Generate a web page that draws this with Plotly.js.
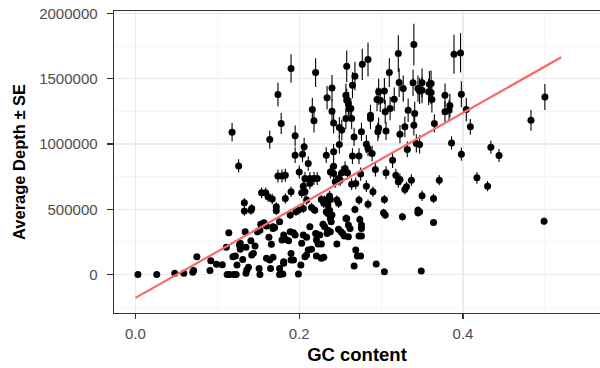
<!DOCTYPE html>
<html>
<head>
<meta charset="utf-8">
<script src="https://cdn.plot.ly/plotly-3.0.1.min.js"></script>
<style>html,body{margin:0;padding:0;background:#fff;}#chart{width:600px;height:368px;}</style>
</head>
<body>
<div id="chart"></div>
<script>
// GC content per contig
const gc = [
0.003,0.026,0.048,0.059,0.070,0.071,0.075,0.091,0.092,0.099,0.106,0.111,0.114,0.126,0.112,0.115,0.120,0.123,0.119,0.122,
0.124,0.127,0.128,0.131,0.133,0.133,0.134,0.135,0.136,0.138,0.135,0.141,0.142,0.141,0.142,0.151,0.152,0.149,0.152,0.154,
0.157,0.159,0.162,0.163,0.160,0.164,0.166,0.165,0.167,0.168,0.172,0.172,0.174,0.176,0.118,0.164,0.174,0.178,0.190,0.195,
0.195,0.204,0.206,0.216,0.218,0.220,0.233,0.234,0.240,0.240,0.242,0.242,0.249,0.249,0.252,0.257,0.258,0.258,0.260,0.261,
0.263,0.264,0.257,0.265,0.268,0.267,0.265,0.273,0.276,0.277,0.284,0.282,0.284,0.287,0.287,0.289,0.297,0.295,0.299,0.304,
0.297,0.296,0.305,0.306,0.311,0.310,0.316,0.321,0.322,0.323,0.327,0.329,0.332,0.333,0.339,0.340,0.340,0.341,0.343,0.345,
0.347,0.350,0.347,0.359,0.358,0.350,0.361,0.361,0.362,0.365,0.378,0.378,0.383,0.384,0.389,0.397,0.398,0.404,0.409,0.386,
0.398,0.434,0.444,0.483,0.500,0.371,0.350,0.364,0.347,0.364,0.417,0.430,0.499,0.349,0.211,0.200,0.179,0.183,0.205,0.207,
0.213,0.218,0.222,0.238,0.242,0.242,0.248,0.252,0.256,0.259,0.244,0.250,0.264,0.269,0.275,0.282,0.293,0.290,0.306,0.314,
0.318,0.323,0.321,0.337,0.329,0.331,0.304,0.303,0.305,0.273,0.284,0.268,0.274,0.276,0.276,0.273,0.276,0.269,0.271,0.275,
0.267,0.294,0.304,0.326,0.345,0.345,0.260,0.258,0.246,0.248,0.237,0.238,0.227,0.231,0.230,0.235,0.233,0.237,0.240,0.229,
0.231,0.235,0.238,0.234,0.248,0.251,0.253,0.246,0.260,0.221,0.225,0.223,0.227,0.215,0.207,0.209,0.221,0.227,0.230,0.203,
0.205,0.209,0.189,0.193,0.195,0.179,0.184,0.187,0.170,0.181,0.190,0.193,0.190,0.180,0.199,0.202,0.183,0.190,0.196,0.203,
0.207,0.213,0.209,0.189,0.199,0.205,0.215,0.219,0.176,0.168,0.153,0.160,0.181,0.213,0.220,0.221,0.144,0.146,0.128,0.168,
0.176,0.181,0.211,0.235,0.238,0.239,0.257,0.262,0.255
];
// Average depth per contig
const depth = [
0,0,10000,10000,17000,30000,136000,30000,106000,78000,75000,208000,320000,832000,0,0,0,0,136000,142000,
73000,226000,193000,116000,486000,549000,327000,208000,34000,55000,9000,493000,506000,259000,149000,47000,0,327000,340000,626000,
396000,626000,595000,285000,124000,111000,231000,47000,578000,366000,519000,488000,754000,0,1090000,1034000,1379000,1157000,1578000,1062000,
914000,922000,978000,1264000,1177000,1547000,914000,1353000,1429000,1251000,1161000,940000,996000,1126000,1106000,1373000,1595000,1335000,1310000,1272000,
1272000,1195000,1195000,1450000,1519000,1054000,907000,907000,1093000,1610000,1647000,998000,966000,1220000,1195000,927000,1399000,1340000,1335000,1406000,
1123000,1093000,1246000,1100000,1272000,1547000,1343000,1692000,1470000,1075000,1424000,1131000,958000,1259000,1468000,1761000,1144000,1233000,1004000,1424000,
1406000,1468000,996000,1458000,1399000,1412000,1463000,1394000,1340000,1157000,1373000,1246000,1259000,1294000,1687000,1697000,1381000,1264000,1131000,1008000,
922000,975000,912000,1182000,1360000,723000,603000,583000,480000,399000,741000,677000,409000,27000,850000,786000,754000,761000,677000,736000,
736000,736000,736000,786000,830000,774000,736000,779000,812000,779000,710000,723000,692000,698000,769000,677000,805000,634000,779000,876000,
761000,728000,710000,723000,652000,672000,575000,473000,455000,570000,539000,499000,422000,379000,353000,295000,295000,187000,142000,142000,
65000,80000,21000,442000,493000,473000,379000,430000,570000,545000,601000,575000,575000,570000,545000,532000,480000,493000,455000,386000,
366000,340000,327000,315000,346000,327000,315000,233000,289000,310000,302000,233000,233000,193000,136000,149000,142000,124000,132000,239000,
302000,285000,327000,320000,302000,264000,269000,259000,361000,98000,111000,111000,162000,4000,4000,73000,583000,634000,480000,626000,
634000,698000,570000,455000,493000,506000,514000,493000,404000,353000,386000,371000,302000,366000,315000,264000,162000,218000,239000,132000,
47000,86000,187000,468000,430000,404000,430000,353000,295000
];
// Standard error of depth per contig
const se = [
3000,3000,4000,4000,5000,5000,12000,5000,10000,8000,8000,15000,20000,50000,4000,4000,4000,4000,10000,10000,
8000,15000,15000,10000,35000,35000,20000,15000,5000,6000,4000,35000,35000,18000,12000,6000,4000,20000,22000,40000,
25000,40000,40000,20000,10000,10000,15000,6000,40000,25000,35000,30000,50000,4000,70000,70000,90000,80000,110000,80000,
60000,60000,70000,90000,90000,110000,60000,90000,100000,90000,80000,60000,70000,80000,80000,90000,120000,90000,90000,90000,
80000,80000,80000,100000,110000,70000,60000,60000,70000,120000,130000,70000,60000,80000,80000,60000,100000,90000,90000,100000,
80000,70000,90000,70000,90000,110000,90000,140000,110000,70000,100000,80000,60000,90000,100000,160000,80000,90000,70000,100000,
100000,110000,70000,100000,100000,100000,100000,90000,100000,70000,90000,80000,80000,90000,150000,150000,100000,90000,60000,50000,
50000,50000,50000,80000,100000,40000,40000,35000,30000,25000,45000,40000,25000,5000,55000,50000,50000,50000,45000,50000,
50000,50000,50000,50000,55000,50000,50000,50000,55000,50000,45000,45000,45000,45000,50000,45000,55000,40000,50000,60000,
50000,45000,45000,45000,40000,40000,35000,30000,30000,35000,35000,30000,30000,25000,25000,20000,20000,15000,12000,12000,
8000,8000,5000,30000,30000,30000,25000,30000,35000,35000,40000,35000,35000,35000,35000,35000,30000,30000,30000,25000,
25000,22000,22000,20000,22000,22000,20000,15000,20000,20000,20000,15000,15000,15000,10000,12000,10000,10000,10000,15000,
20000,20000,20000,20000,20000,18000,18000,18000,25000,8000,10000,10000,12000,4000,4000,8000,40000,40000,30000,40000,
40000,45000,35000,30000,30000,35000,35000,30000,25000,25000,25000,25000,20000,25000,20000,18000,12000,15000,15000,10000,
6000,8000,15000,30000,30000,25000,30000,25000,20000
];
// Linear fit
const fitIntercept = -179000;
const fitSlope = 3544000;
const fitRange = [0.0, 0.52];
const xTicks = [0.0, 0.2, 0.4];
const xTickText = ["0.0", "0.2", "0.4"];
const yTicks = [0, 500000, 1000000, 1500000, 2000000];
const yTickText = ["0", "500000", "1000000", "1500000", "2000000"];

const fitX = fitRange.slice();
const fitY = fitX.map(x => fitIntercept + fitSlope * x);

const traces = [
  {
    type: 'scatter', mode: 'markers', x: gc, y: depth,
    marker: {color: '#000000', size: 7},
    error_y: {type: 'data', array: se, visible: true, color: '#000000', thickness: 1.1, width: 0},
    hoverinfo: 'x+y', showlegend: false
  },
  {
    type: 'scatter', mode: 'lines', x: fitX, y: fitY,
    line: {color: '#F8696B', width: 2.2}, showlegend: false, hoverinfo: 'skip'
  }
];

const tickFont = {family: 'Liberation Sans, Arial, sans-serif', size: 15, color: '#4D4D4D'};
const xTitleFont = {family: 'Liberation Sans, Arial, sans-serif', size: 18.5, color: '#000000', weight: 'bold'};
const yTitleFont = {family: 'Liberation Sans, Arial, sans-serif', size: 16.5, color: '#000000', weight: 'bold'};

const layout = {
  width: 600, height: 368,
  margin: {l: 114, r: 0, t: 11, b: 55},
  paper_bgcolor: '#ffffff', plot_bgcolor: '#ffffff',
  showlegend: false,
  xaxis: {
    range: [-0.0262, 0.5673],
    tickvals: xTicks, ticktext: xTickText,
    ticks: 'outside', ticklen: 5, tickwidth: 1.2, tickcolor: '#333333',
    ticklabelstandoff: 2,
    showline: true, linecolor: '#333333', linewidth: 1.4, mirror: true,
    showgrid: true, gridcolor: '#EBEBEB', gridwidth: 1.3,
    minor: {tickvals: [0.1, 0.3, 0.5], showgrid: true, gridcolor: '#F2F2F2', gridwidth: 0.7, ticks: ''},
    zeroline: false, tickfont: tickFont,
    title: {text: 'GC content', font: xTitleFont, standoff: 6}
  },
  yaxis: {
    range: [-294600, 2018300],
    tickvals: yTicks, ticktext: yTickText,
    ticks: 'outside', ticklen: 6, tickwidth: 1.2, tickcolor: '#333333',
    ticklabelstandoff: 6,
    showline: true, linecolor: '#333333', linewidth: 1.4, mirror: false,
    showgrid: true, gridcolor: '#EBEBEB', gridwidth: 1.3,
    minor: {tickvals: [-250000, 250000, 750000, 1250000, 1750000], showgrid: true, gridcolor: '#F2F2F2', gridwidth: 0.7, ticks: ''},
    zeroline: false, tickfont: tickFont,
    title: {text: 'Average Depth ± SE', font: yTitleFont, standoff: 9}
  }
};

Plotly.newPlot('chart', traces, layout, {displayModeBar: false, staticPlot: true});
</script>
</body>
</html>
